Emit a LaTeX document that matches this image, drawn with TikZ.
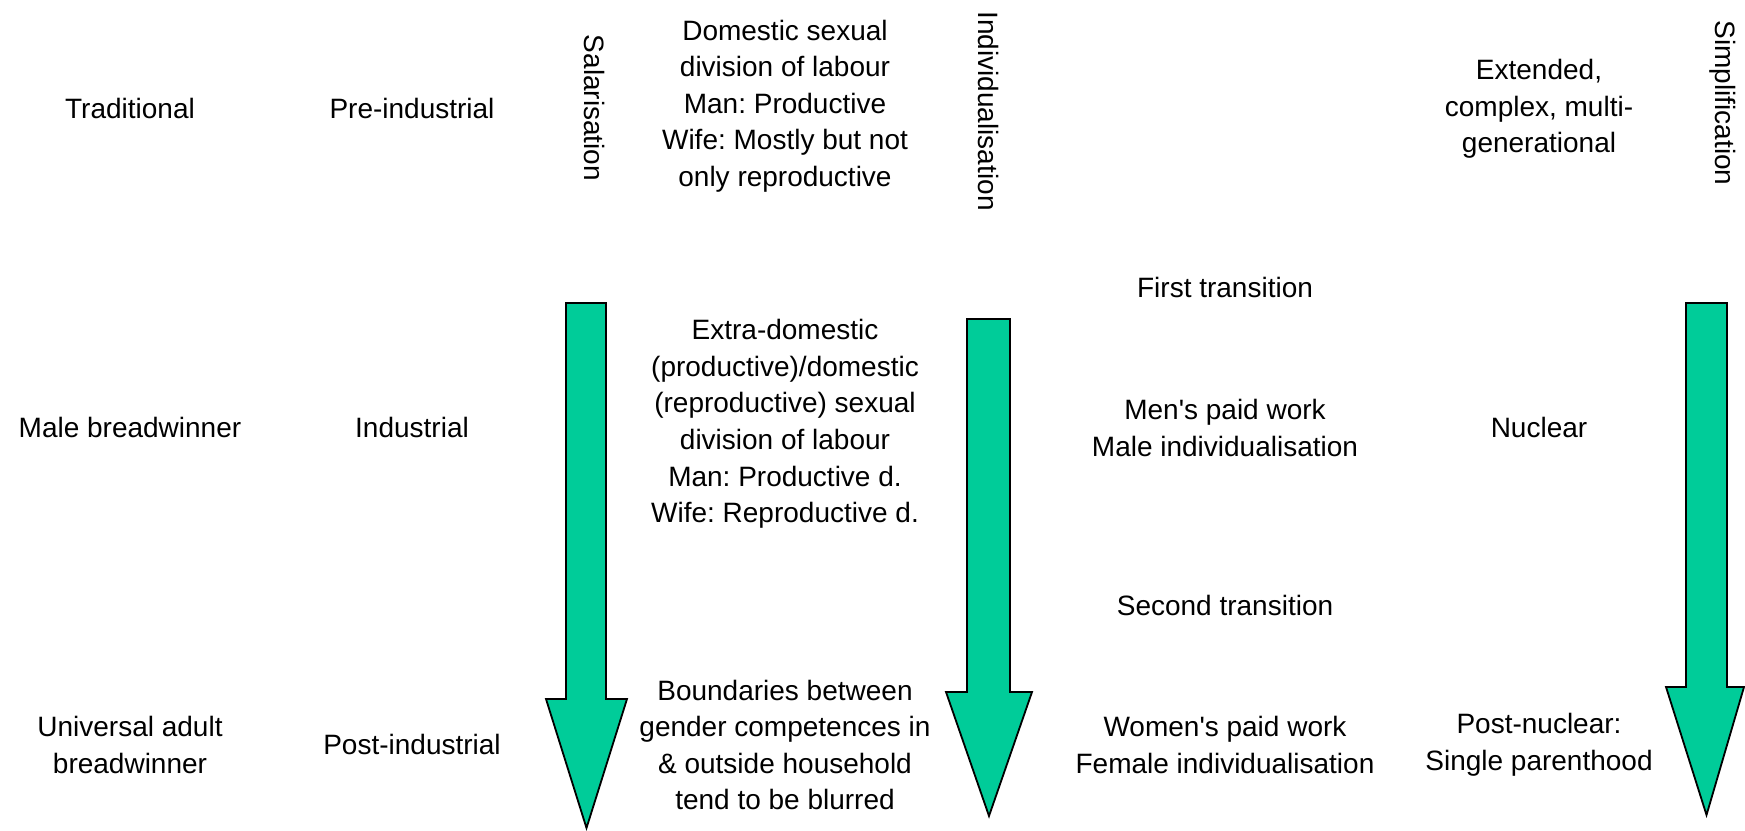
\documentclass[tikz,border=0pt]{standalone}
\usepackage{fontspec}
\setmainfont{Liberation Sans}
\frenchspacing
\definecolor{arrowgreen}{RGB}{0,204,153}
\begin{document}
\begin{tikzpicture}[x=0.5pt,y=-0.5pt,
  txt/.style={align=center,font=\fontsize{14}{18.3}\selectfont,inner sep=0pt,text=black},
  vtxt/.style={txt,rotate=-90},
  bigarrow/.style={fill=arrowgreen,draw=black,line width=0.9pt,line join=miter}]
\useasboundingbox (0,0) rectangle (1745,830);
% row 1
\node[txt] (trad) at (130,108) {Traditional};
\node[txt] (preind) at (412,108) {Pre-industrial};
\node[vtxt] (salar) at (595,108) {Salarisation};
\node[txt] (dom) at (785,106) {Domestic sexual\\division of labour\\Man: Productive\\Wife: Mostly but not\\only reproductive};
\node[vtxt] (indiv) at (988,111) {Individualisation};
\node[txt] (ext) at (1539,109) {Extended,\\complex, multi-\\generational};
\node[vtxt] (simpl) at (1723,103) {Simplification};
% row 2
\node[txt] (first) at (1225,287) {First transition};
\node[txt] (male) at (130,427) {Male breadwinner};
\node[txt] (ind) at (412,427) {Industrial};
\node[txt] (extra) at (785,424) {Extra-domestic\\(productive)/domestic\\(reproductive) sexual\\division of labour\\Man: Productive d.\\Wife: Reproductive d.};
\node[txt] (menw) at (1225,428) {Men\textquotesingle s paid work\\Male individualisation};
\node[txt] (nuc) at (1539,427) {Nuclear};
% row 3
\node[txt] (second) at (1225,605) {Second transition};
\node[txt] (univ) at (130,745) {Universal adult\\breadwinner};
\node[txt] (postind) at (412,744) {Post-industrial};
\node[txt] (bound) at (785,745) {Boundaries between\\gender competences in\\\& outside household\\tend to be blurred};
\node[txt] (womw) at (1225,745) {Women\textquotesingle s paid work\\Female individualisation};
\node[txt] (postnuc) at (1539,745) {Post-nuclear:\\Single parenthood};
% arrows
\draw[bigarrow] (566,303) -- (606,303) -- (606,699) -- (627,699) -- (586.5,828) -- (546,699) -- (566,699) -- cycle;
\draw[bigarrow] (967,319) -- (1010,319) -- (1010,692) -- (1032,692) -- (989,816) -- (946,692) -- (967,692) -- cycle;
\draw[bigarrow] (1686,303) -- (1727,303) -- (1727,687) -- (1744,687) -- (1706.5,815) -- (1666,687) -- (1686,687) -- cycle;
\end{tikzpicture}
\end{document}
